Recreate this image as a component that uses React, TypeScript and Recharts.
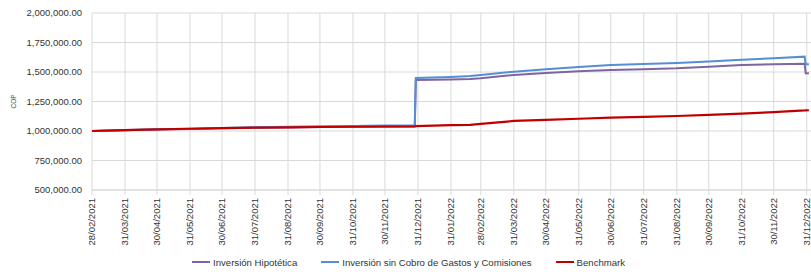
import { LineChart, Line, XAxis, YAxis, CartesianGrid, Legend } from 'recharts';

// fechas de la serie (dd/mm/yyyy) y valores en COP
const fechas = [
  '28/02/2021', '31/03/2021', '30/04/2021', '31/05/2021', '30/06/2021', '31/07/2021',
  '31/08/2021', '30/09/2021', '31/10/2021', '30/11/2021', '28/12/2021', '29/12/2021',
  '31/01/2022', '18/02/2022', '28/02/2022', '31/03/2022', '30/04/2022', '31/05/2022',
  '30/06/2022', '31/07/2022', '31/08/2022', '30/09/2022', '31/10/2022', '30/11/2022',
  '29/12/2022', '30/12/2022', '02/01/2023',
];

const inversionHipotetica = [
  1000000, 1006000, 1012000, 1018000, 1023000, 1027000,
  1030000, 1033000, 1035000, 1037000, 1039000, 1432000,
  1437000, 1440000, 1447000, 1475000, 1492000, 1506000,
  1517000, 1524000, 1531000, 1545000, 1559000, 1565000,
  1570000, 1489000, 1490000,
];

const inversionSinCobro = [
  1000000, 1008000, 1014000, 1020000, 1026000, 1032000,
  1036000, 1040000, 1043000, 1046000, 1049000, 1449000,
  1458000, 1466000, 1474000, 1503000, 1524000, 1542000,
  1559000, 1567000, 1576000, 1590000, 1604000, 1617000,
  1630000, 1565000, 1566000,
];

const benchmark = [
  1000000, 1007000, 1013000, 1019000, 1024000, 1028000,
  1031000, 1034000, 1036000, 1038000, 1040000, 1041000,
  1049000, 1052000, 1060000, 1085000, 1095000, 1104000,
  1113000, 1120000, 1127000, 1137000, 1147000, 1160000,
  1174000, 1175000, 1176000,
];

const fechasEje = [
  '28/02/2021', '31/03/2021', '30/04/2021', '31/05/2021', '30/06/2021', '31/07/2021',
  '31/08/2021', '30/09/2021', '31/10/2021', '30/11/2021', '31/12/2021', '31/01/2022',
  '28/02/2022', '31/03/2022', '30/04/2022', '31/05/2022', '30/06/2022', '31/07/2022',
  '31/08/2022', '30/09/2022', '31/10/2022', '30/11/2022', '31/12/2022',
];
const finEje = '19/01/2023';

const ticksY = [500000, 750000, 1000000, 1250000, 1500000, 1750000, 2000000];

const series = [
  { key: 'hip', name: 'Inversión Hipotética', color: '#8064A2', width: 2 },
  { key: 'sin', name: 'Inversión sin Cobro de Gastos y Comisiones', color: '#558ED5', width: 2 },
  { key: 'bench', name: 'Benchmark', color: '#C00000', width: 2.2 },
];

const FONT = '"Liberation Sans", Arial, sans-serif';
const TEXT = '#333';
const GRID = '#d9d9d9';

const toDay = (s: string) => {
  const [d, m, y] = s.split('/').map(Number);
  return Date.UTC(y, m - 1, d) / 86400000;
};
const fmtDay = (n: number) => {
  const dt = new Date(n * 86400000);
  const dd = String(dt.getUTCDate()).padStart(2, '0');
  const mm = String(dt.getUTCMonth() + 1).padStart(2, '0');
  return `${dd}/${mm}/${dt.getUTCFullYear()}`;
};
const fmtCop = (v: number) =>
  v.toLocaleString('en-US', { minimumFractionDigits: 2, maximumFractionDigits: 2 });

const rows = fechas.map((f, i) => ({
  t: toDay(f),
  hip: inversionHipotetica[i],
  sin: inversionSinCobro[i],
  bench: benchmark[i],
}));

function DateTick(props: any) {
  const { x, y, payload } = props;
  return (
    <g transform={`translate(${x},${y})`}>
      <text
        transform="rotate(-90)"
        textAnchor="end"
        dy="0.35em"
        fontSize={9.5}
        fontFamily={FONT}
        fill={TEXT}
      >
        {fmtDay(payload.value)}
      </text>
    </g>
  );
}

// leyenda en el mismo orden que las series
function renderLegend() {
  return (
    <div
      style={{
        display: 'flex',
        alignItems: 'center',
        height: 20,
        paddingLeft: 192,
        fontFamily: FONT,
        fontSize: 9.6,
        color: TEXT,
        whiteSpace: 'nowrap',
      }}
    >
      {series.map((s) => (
        <span key={s.key} style={{ display: 'flex', alignItems: 'center', marginRight: 24 }}>
          <span style={{ width: 18, height: 2, background: s.color, marginRight: 3 }} />
          {s.name}
        </span>
      ))}
    </div>
  );
}

export default function App() {
  return (
    <div
      style={{
        position: 'absolute',
        left: 0,
        top: 0,
        width: 811,
        height: 272,
        overflow: 'hidden',
        background: '#fff',
      }}
    >
      <LineChart
        width={830}
        height={272}
        data={rows}
        margin={{ top: 13, right: 3, bottom: 0, left: 0 }}
      >
        <CartesianGrid stroke={GRID} />
        <XAxis
          dataKey="t"
          type="number"
          domain={[toDay(fechasEje[0]), toDay(finEje)]}
          ticks={fechasEje.map(toDay)}
          interval={0}
          tick={<DateTick />}
          tickSize={5}
          tickMargin={3}
          tickLine={{ stroke: GRID }}
          axisLine={{ stroke: GRID }}
          height={62}
        />
        <YAxis
          width={92}
          domain={[500000, 2000000]}
          ticks={ticksY}
          tickFormatter={fmtCop}
          axisLine={false}
          tickLine={false}
          tickSize={6}
          tickMargin={4}
          tick={{ fontSize: 9.5, fontFamily: FONT, fill: TEXT }}
          label={{
            value: 'COP',
            angle: -90,
            position: 'insideLeft',
            offset: 14,
            style: { fontSize: 6.5, fontFamily: FONT, fill: '#44546A', textAnchor: 'middle' },
          }}
        />
        <Legend
          verticalAlign="bottom"
          height={20}
          content={renderLegend}
          wrapperStyle={{ left: 0, width: 811, bottom: 0 }}
        />
        {series.map((s) => (
          <Line
            key={s.key}
            type="linear"
            dataKey={s.key}
            name={s.name}
            stroke={s.color}
            strokeWidth={s.width}
            dot={false}
            isAnimationActive={false}
          />
        ))}
      </LineChart>
    </div>
  );
}
